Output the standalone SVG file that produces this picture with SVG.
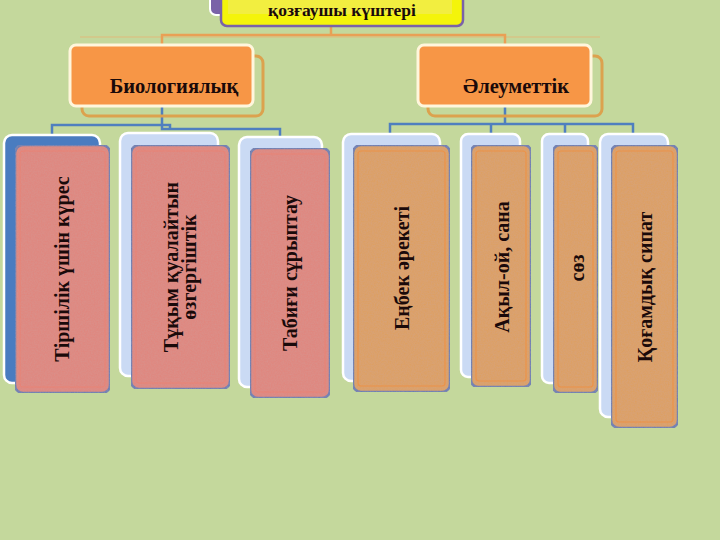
<svg xmlns="http://www.w3.org/2000/svg" width="720" height="540" viewBox="0 0 720 540">
<defs>
<style>
.bg{fill:#c4d89c}
.t{font-family:"Liberation Serif","Times New Roman",serif;font-weight:bold;fill:#1a0a0a;text-anchor:middle}
.lvl1{fill:#f79646;stroke:#fff6dc;stroke-width:3}
.lvl1o{fill:none;stroke:#dca24e;stroke-width:3}
.backBlue{fill:#4a7cc0;stroke:#ffffff;stroke-width:2.5}
.backLight{fill:#cadaf4;stroke:#ffffff;stroke-width:2.5}
.pink{fill:#e0877f;stroke:#6b7fb4;stroke-width:2.5}
.tan{fill:#dda064;stroke:#6b7fb4;stroke-width:2.5}
.pinkIn{fill:none;stroke:#ee8070;stroke-width:1;opacity:.7}
.tanIn{fill:none;stroke:#f09040;stroke-width:1.2;opacity:.8}
.co{fill:none;stroke:#e9a055;stroke-width:2.5}
.cb{fill:none;stroke:#4f7fbf;stroke-width:2.5}
</style>
<filter id="tex" x="0" y="0" width="100%" height="100%">
<feTurbulence type="fractalNoise" baseFrequency="0.7" numOctaves="3" seed="3" result="n"/>
<feColorMatrix in="n" type="matrix" values="0 0 0 0 0.55  0 0 0 0 0.4  0 0 0 0 0.4  0 0 0 0.3 -0.05" result="m"/>
<feComposite in="m" in2="SourceGraphic" operator="in" result="c"/>
<feMerge><feMergeNode in="SourceGraphic"/><feMergeNode in="c"/></feMerge>
</filter>
</defs>
<rect class="bg" x="0" y="0" width="720" height="540"/>

<g id="connectors">
<line x1="80" y1="37" x2="600" y2="37" stroke="#e8b070" stroke-width="1.5" opacity="0.5"/>
<polyline class="co" points="331,26 331,35"/>
<polyline class="co" points="162,45 162,35 505,35 505,45"/>
<polyline class="cb" points="162,106 162,125"/>
<polyline class="cb" points="52,134 52,125 170,125 170,130"/>
<polyline class="cb" points="162,125 162,129 280,129 280,138"/>
<polyline class="cb" points="505,106 505,124"/>
<polyline class="cb" points="390,134 390,124 633,124 633,134"/>
<polyline class="cb" points="491,124 491,134"/>
<polyline class="cb" points="565,124 565,134"/>
</g>

<g id="title">
<rect x="210" y="-20" width="245" height="35" rx="6" fill="#7a62a8" stroke="#ffffff" stroke-width="2"/>
<rect x="221" y="-20" width="242" height="46" rx="6" fill="#f4f40a" stroke="#7a62a8" stroke-width="2.5"/>
<rect x="228" y="-12" width="224" height="26" fill="#f2ee40"/>
<text class="t" x="342" y="16" font-size="17.5">қозғаушы күштері</text>
</g>

<g id="bio">
<rect class="lvl1o" x="82" y="56" width="181" height="60" rx="7"/>
<rect class="lvl1" x="70" y="45" width="183" height="61" rx="6"/>
<text class="t" x="174" y="93" font-size="20.5">Биологиялық</text>
</g>

<g id="social">
<rect class="lvl1o" x="428" y="56" width="174" height="60" rx="7"/>
<rect class="lvl1" x="418" y="45" width="173" height="61" rx="6"/>
<text class="t" x="516" y="93" font-size="20.5">Әлеуметтік</text>
</g>

<g id="n1">
<rect class="backBlue" x="4" y="135" width="96" height="248" rx="8"/>
<rect class="pink" x="15" y="145" width="95" height="248" rx="8" filter="url(#tex)"/>
<rect class="pinkIn" x="20" y="151" width="85" height="236" rx="3"/>
<text class="t" font-size="20" transform="translate(62,269) rotate(-90)" y="7">Тіршілік үшін күрес</text>
</g>

<g id="n2">
<rect class="backLight" x="120" y="133" width="98" height="243" rx="8"/>
<rect class="pink" x="131" y="145" width="99" height="244" rx="8" filter="url(#tex)"/>
<rect class="pinkIn" x="136" y="151" width="89" height="232" rx="3"/>
<text class="t" font-size="20" transform="translate(180,267) rotate(-90)"><tspan x="0" y="-2">Тұқым қуалайтын</tspan><tspan x="0" y="16">өзгергіштік</tspan></text>
</g>

<g id="n3">
<rect class="backLight" x="239" y="137" width="83" height="250" rx="8"/>
<rect class="pink" x="250" y="148" width="80" height="250" rx="8" filter="url(#tex)"/>
<rect class="pinkIn" x="255" y="154" width="70" height="238" rx="3"/>
<text class="t" font-size="20" transform="translate(290,273) rotate(-90)" y="7">Табиғи сұрыптау</text>
</g>

<g id="n4">
<rect class="backLight" x="343" y="134" width="97" height="247" rx="8"/>
<rect class="tan" x="353" y="145" width="97" height="247" rx="8" filter="url(#tex)"/>
<rect class="tanIn" x="358" y="151" width="87" height="235" rx="3"/>
<text class="t" font-size="20" transform="translate(402,268) rotate(-90)" y="7">Еңбек әрекеті</text>
</g>

<g id="n5">
<rect class="backLight" x="461" y="134" width="59" height="243" rx="7"/>
<rect class="tan" x="471" y="145" width="60" height="242" rx="7" filter="url(#tex)"/>
<rect class="tanIn" x="476" y="151" width="50" height="230" rx="3"/>
<text class="t" font-size="20" transform="translate(502,267) rotate(-90)" y="7">Ақыл-ой, сана</text>
</g>

<g id="n6">
<rect class="backLight" x="542" y="134" width="46" height="249" rx="7"/>
<rect class="tan" x="553" y="145" width="45" height="248" rx="7" filter="url(#tex)"/>
<rect class="tanIn" x="558" y="151" width="35" height="236" rx="3"/>
<text class="t" font-size="20" transform="translate(577,268) rotate(-90)" y="7">сөз</text>
</g>

<g id="n7">
<rect class="backLight" x="600" y="134" width="68" height="283" rx="8"/>
<rect class="tan" x="611" y="145" width="67" height="283" rx="8" filter="url(#tex)"/>
<rect class="tanIn" x="616" y="151" width="57" height="271" rx="3"/>
<text class="t" font-size="20" transform="translate(645,287) rotate(-90)" y="7">Қоғамдық сипат</text>
</g>
</svg>
